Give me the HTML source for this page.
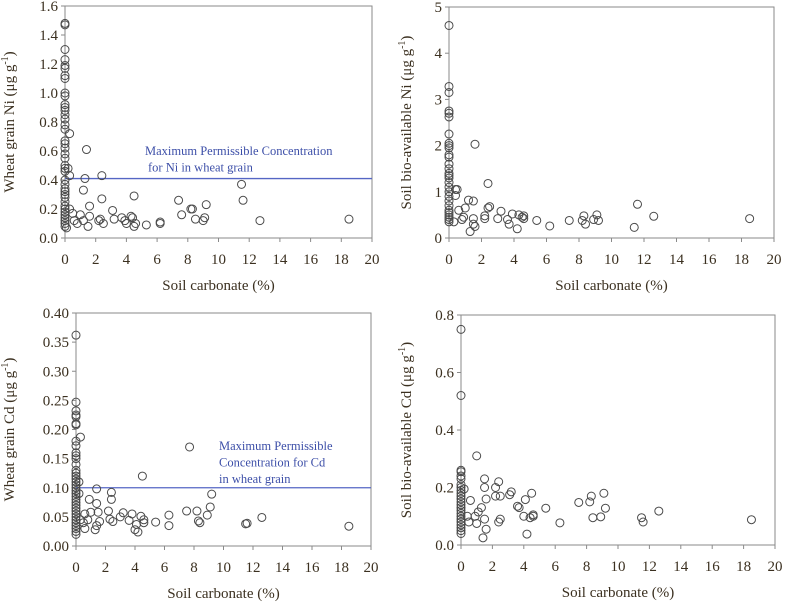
<!DOCTYPE html>
<html><head><meta charset="utf-8"><style>
body{margin:0;background:#fff;width:787px;height:602px;overflow:hidden}
svg{display:block}
svg text{font-family:"Liberation Serif","DejaVu Serif",serif}
</style></head><body>
<svg id="c" width="787" height="602" font-family="Liberation Serif, DejaVu Serif, serif"></svg>
<script>
const xTicks=[0,2,4,6,8,10,12,14,16,18,20];
const niGrainX0=[1.47,1.48,1.30,1.23,1.19,1.17,1.12,1.10,1.00,0.98,0.92,0.90,0.88,0.85,0.82,0.78,0.75,0.67,0.65,0.62,0.58,0.55,0.50,0.48,0.46,0.40,0.37,0.34,0.32,0.30,0.28,0.25,0.22,0.20,0.18,0.16,0.14,0.12,0.10,0.08];
const niGrainX=[0.3,0.2,0.3,1.4,1.3,2.4,1.2,2.4,1.6,4.5,3.1,0.3,0.5,1.0,1.6,2.3,2.2,2.5,3.2,3.7,3.9,4.0,4.3,4.4,4.6,4.5,5.3,6.2,6.2,7.4,7.6,8.2,8.3,8.5,9.0,9.1,9.2,11.5,11.6,12.7,18.5,1.5,0.8,1.2,0.6,0.1];
const niGrainY=[0.72,0.48,0.43,0.61,0.41,0.43,0.33,0.27,0.22,0.29,0.19,0.2,0.17,0.16,0.15,0.13,0.12,0.10,0.13,0.14,0.12,0.10,0.15,0.14,0.10,0.08,0.09,0.11,0.10,0.26,0.16,0.20,0.20,0.13,0.12,0.14,0.23,0.37,0.26,0.12,0.13,0.08,0.10,0.12,0.12,0.07];
const niSoilX0=[4.6,3.28,3.15,2.75,2.70,2.62,2.25,2.05,2.0,1.95,1.8,1.75,1.6,1.5,1.4,1.35,1.3,1.2,1.1,1.0,0.9,0.8,0.7,0.6,0.55,0.5,0.45,0.4,0.35];
const niSoilX=[1.6,2.4,0.4,0.5,0.4,1.2,1.5,0.6,1.0,2.4,2.5,3.2,2.2,2.2,3.0,3.6,3.7,3.9,4.2,4.3,4.5,4.6,4.6,5.4,6.2,7.4,8.2,8.3,8.4,8.9,9.1,9.2,11.4,11.6,12.6,18.5,1.3,1.5,1.6,1.5,0.8,0.3,0.9];
const niSoilY=[2.03,1.18,1.05,1.05,0.92,0.82,0.8,0.6,0.65,0.65,0.68,0.58,0.48,0.42,0.42,0.4,0.3,0.52,0.2,0.5,0.45,0.42,0.48,0.38,0.26,0.38,0.38,0.48,0.3,0.4,0.5,0.38,0.23,0.73,0.47,0.42,0.14,0.3,0.25,0.42,0.4,0.35,0.45];
const cdGrainX0=[0.362,0.247,0.232,0.225,0.222,0.21,0.208,0.18,0.172,0.16,0.155,0.15,0.14,0.13,0.125,0.12,0.115,0.11,0.105,0.1,0.095,0.09,0.085,0.08,0.075,0.07,0.065,0.06,0.055,0.05,0.045,0.04,0.035,0.03,0.025,0.02];
const cdGrainX=[0.3,0.2,0.2,1.4,2.4,2.4,0.9,1.4,7.7,4.5,9.2,9.1,7.5,8.2,8.9,6.3,6.3,8.3,8.4,12.6,11.5,11.6,18.5,5.4,4.6,4.6,4.4,4.1,4.0,4.2,3.8,3.6,3.2,3.0,2.2,2.3,2.5,1.5,1.6,1.4,1.3,1.0,0.6,0.6,0.8,0.5,0.3];
const cdGrainY=[0.187,0.11,0.09,0.098,0.092,0.08,0.08,0.073,0.17,0.12,0.089,0.067,0.06,0.06,0.053,0.053,0.035,0.043,0.04,0.049,0.038,0.039,0.034,0.041,0.045,0.04,0.051,0.037,0.028,0.024,0.055,0.044,0.057,0.05,0.06,0.046,0.042,0.058,0.042,0.035,0.028,0.058,0.055,0.03,0.045,0.04,0.045];
const cdSoilX0=[0.75,0.52,0.26,0.255,0.24,0.23,0.21,0.2,0.19,0.18,0.17,0.16,0.15,0.14,0.13,0.12,0.11,0.1,0.09,0.08,0.07,0.06,0.05,0.04];
const cdSoilX=[1.0,1.5,2.4,1.5,2.2,0.2,0.6,1.6,2.2,2.5,3.1,3.2,4.5,4.1,3.6,3.7,1.3,1.1,0.9,0.4,1.5,2.5,2.4,1.6,1.4,4.2,4.0,4.4,4.6,4.6,5.4,6.3,7.5,8.2,8.3,8.4,8.9,9.1,9.2,11.5,11.6,12.6,18.5,1.0,0.5];
const cdSoilY=[0.31,0.23,0.22,0.2,0.2,0.195,0.155,0.16,0.17,0.17,0.175,0.185,0.18,0.158,0.135,0.13,0.13,0.115,0.1,0.1,0.09,0.09,0.08,0.055,0.025,0.038,0.1,0.095,0.105,0.1,0.128,0.077,0.148,0.15,0.17,0.095,0.098,0.18,0.128,0.095,0.08,0.118,0.088,0.075,0.08];
const yTicks1=["0.0","0.2","0.4","0.6","0.8","1.0","1.2","1.4","1.6"];
const yTicks2=["0","1","2","3","4","5"];
const yTicks3=["0.00","0.05","0.10","0.15","0.20","0.25","0.30","0.35","0.40"];
const yTicks4=["0.0","0.2","0.4","0.6","0.8"];

const svg=document.getElementById('c');
const NS='http://www.w3.org/2000/svg';
const FF='Liberation Serif, DejaVu Serif, serif';
function mk(tag,attrs,parent){const e=document.createElementNS(NS,tag);for(const k in attrs)e.setAttribute(k,attrs[k]);if(tag==='text')e.setAttribute('font-family',FF);(parent||svg).appendChild(e);return e;}
function panel(p){
  const g=mk('g',{});
  
  
  const ymax=parseFloat(p.yt[p.yt.length-1]);
  const sx=v=>p.x0+(p.x1-p.x0)*v/20;
  const sy=v=>p.y0-(p.y0-p.y1)*v/ymax;
  const fr=mk('rect',{x:p.x0,y:p.y1,width:p.x1-p.x0,height:p.y0-p.y1,fill:'none',stroke:'#8a8a8a','stroke-width':1},g);
  
  
  p.yt.forEach(t=>{const v=parseFloat(t);const y=sy(v);
    mk('line',{x1:p.x0-4,x2:p.x0,y1:y,y2:y,stroke:'#8a8a8a'},g);
    const tx=mk('text',{x:p.x0-7,y:y+5,'text-anchor':'end','font-size':15,fill:'#3b3020'},g);tx.textContent=t;
    
    });
  xTicks.forEach(v=>{const x=sx(v);
    mk('line',{x1:x,x2:x,y1:p.y0,y2:p.y0+4,stroke:'#8a8a8a'},g);
    const tx=mk('text',{x:x,y:p.y0+26,'text-anchor':'middle','font-size':15,fill:'#3b3020'},g);tx.textContent=v;
    
    });
  const xl=mk('text',{x:(p.x0+p.x1)/2,y:p.y0+52,'text-anchor':'middle','font-size':15,fill:'#3b3020'},g);
  xl.textContent='Soil carbonate (%)';
  
  
  const cy=(p.y0+p.y1)/2;
  const yl=mk('text',{x:p.tx,y:cy,'text-anchor':'middle','font-size':15,fill:'#3b3020',transform:`rotate(-90 ${p.tx} ${cy})`},g);
  yl.innerHTML=p.ylab+' (μg g<tspan dy="-6" font-size="10">-1</tspan><tspan dy="6">)</tspan>';
  
  
  if(p.lim!==undefined){const ln=mk('line',{x1:p.x0,x2:p.x1,y1:sy(p.lim),y2:sy(p.lim),stroke:'#5566c4','stroke-width':1.3},g);
    
    
    p.note.forEach((s,i)=>{const t=mk('text',{x:p.nx[i],y:p.ny+i*16.5,'font-size':12.5,fill:'#3d4fa8'},g);t.textContent=s;
      
      });}
  const pts=[];p.X0.forEach(v=>pts.push([0,v]));p.X.forEach((x,i)=>pts.push([x,p.Y[i]]));
  pts.forEach(([x,y])=>{const c=mk('circle',{cx:sx(x),cy:sy(y),r:4,fill:'none',stroke:'#4a4a4a','stroke-width':1},g);
    
    });
}
panel({name:'wheat-grain-ni-panel',x0:65,x1:372,y0:238,y1:6,yt:yTicks1,tx:14,ylab:'Wheat grain Ni',X0:niGrainX0,X:niGrainX,Y:niGrainY,lim:0.41,note:['Maximum Permissible Concentration',' for Ni in wheat grain'],nx:[145,148],ny:155});
panel({name:'soil-ni-panel',x0:449,x1:774,y0:238,y1:7,yt:yTicks2,tx:411,ylab:'Soil bio-available Ni',X0:niSoilX0,X:niSoilX,Y:niSoilY});
panel({name:'wheat-grain-cd-panel',x0:76,x1:371,y0:546,y1:313,yt:yTicks3,tx:14,ylab:'Wheat grain Cd',X0:cdGrainX0,X:cdGrainX,Y:cdGrainY,lim:0.1,note:['Maximum Permissible','Concentration for Cd','in wheat grain'],nx:[219,219,219],ny:450});
panel({name:'soil-cd-panel',x0:461,x1:775,y0:545,y1:315,yt:yTicks4,tx:411,ylab:'Soil bio-available Cd',X0:cdSoilX0,X:cdSoilX,Y:cdSoilY});
</script>
</body></html>
